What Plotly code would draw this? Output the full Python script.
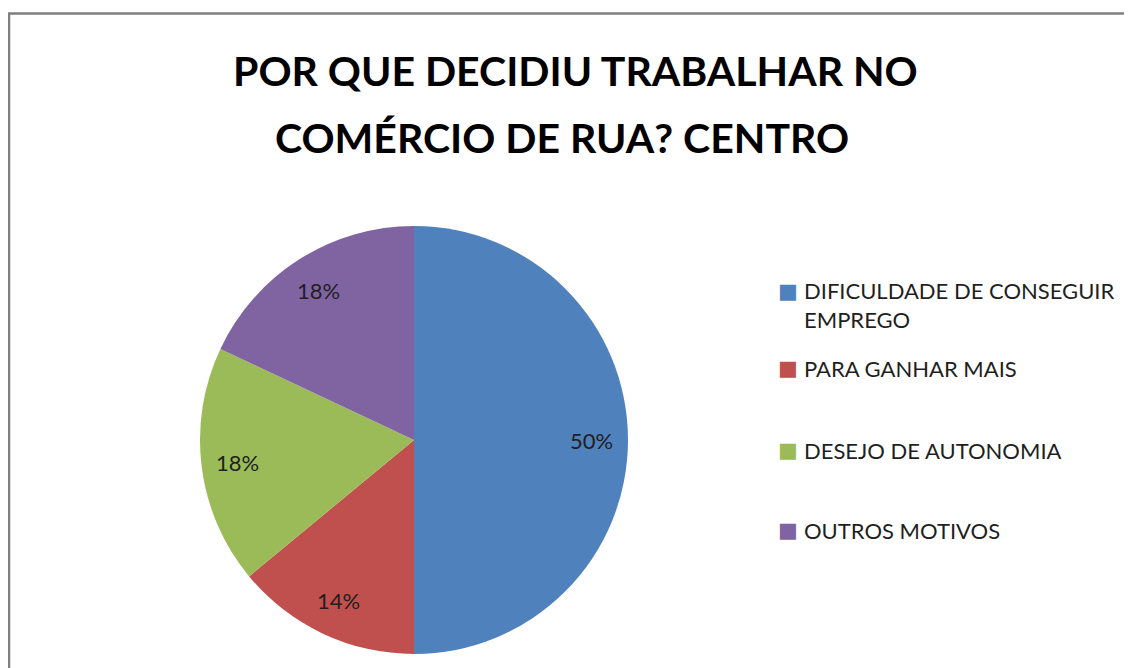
import math
import plotly.graph_objects as go

labels = ["DIFICULDADE DE CONSEGUIR<br>EMPREGO", "PARA GANHAR MAIS", "DESEJO DE AUTONOMIA", "OUTROS MOTIVOS"]
values = [50, 14, 18, 18]
colors = ["#4F81BD", "#C0504D", "#9BBB59", "#8064A2"]
title_lines = ["POR QUE DECIDIU TRABALHAR NO", "COMÉRCIO DE RUA? CENTRO"]

# page body has an 8px margin; figure coordinates are page coordinates minus 8
W, H = 1124, 660
cx, cy, r = 406, 432, 214
FONT = "Lato"
TXT = "#1f1f1f"

fig = go.Figure(go.Pie(
    labels=labels, values=values, sort=False, direction="clockwise", rotation=0,
    marker=dict(colors=colors, line=dict(width=0)),
    textinfo="none",
    domain=dict(x=[(cx - r) / W, (cx + r) / W], y=[(H - cy - r) / H, (H - cy + r) / H]),
    showlegend=False, hoverinfo="label+percent",
))

annotations = [
    dict(text="<b>" + title_lines[0] + "</b>", x=567 / W, y=1 - 62 / H,
         xref="paper", yref="paper", showarrow=False, xanchor="center", yanchor="middle",
         font=dict(family=FONT, size=41, color="#000000")),
    dict(text="<b>" + title_lines[1] + "</b>", x=554 / W, y=1 - 129 / H,
         xref="paper", yref="paper", showarrow=False, xanchor="center", yanchor="middle",
         font=dict(family=FONT, size=41, color="#000000")),
]

# percentage labels placed along each slice's mid-angle
total = sum(values)
cum = 0
for v in values:
    mid = (cum + v / 2) / total * 2 * math.pi
    cum += v
    d = 0.83 * r
    px = cx + d * math.sin(mid)
    py = cy - d * math.cos(mid)
    annotations.append(dict(text=f"{round(v / total * 100)}%", x=px / W, y=1 - py / H,
                            xref="paper", yref="paper", showarrow=False,
                            xanchor="center", yanchor="middle",
                            font=dict(family=FONT, size=22, color=TXT)))

legend_y = [297, 360, 442, 522]
for lab, col, ly in zip(labels, colors, legend_y):
    first_line_y = ly - 14 if "<br>" in lab else ly
    annotations.append(dict(text="■", x=780 / W, y=1 - first_line_y / H, xref="paper", yref="paper",
                            showarrow=False, xanchor="center", yanchor="middle",
                            font=dict(family="DejaVu Sans", size=21, color=col)))
    annotations.append(dict(text=lab, x=794 / W, y=1 - ly / H, xref="paper", yref="paper",
                            showarrow=False, xanchor="left", yanchor="middle", align="left",
                            font=dict(family=FONT, size=22, color=TXT)))

fig.update_layout(
    width=W, height=H, margin=dict(l=0, r=0, t=0, b=0),
    paper_bgcolor="white", plot_bgcolor="white",
    annotations=annotations,
    shapes=[dict(type="rect", xref="paper", yref="paper", x0=1 / W, x1=1.05, y0=-0.05, y1=1 - 5.5 / H,
                 line=dict(color="#808080", width=2.5), fillcolor="rgba(0,0,0,0)", layer="below")],
)
fig.write_html("out.html")
